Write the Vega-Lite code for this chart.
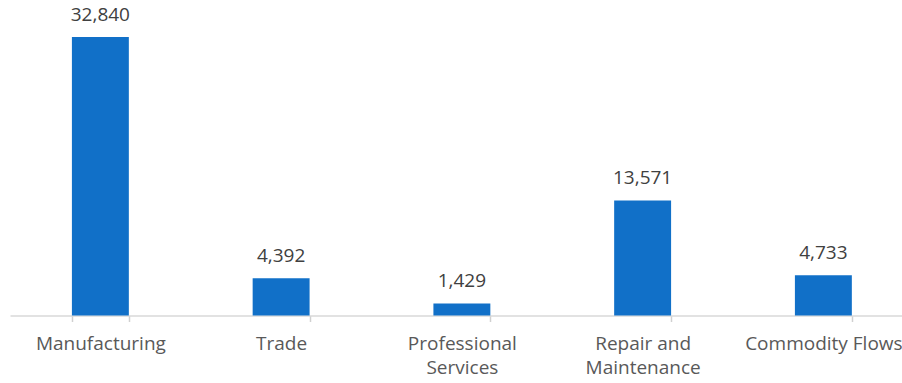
{
  "$schema": "https://vega.github.io/schema/vega-lite/v6.json",
  "width": 892,
  "height": 305.5,
  "autosize": {"type": "none"},
  "padding": {"left": 10, "top": 10, "right": 0, "bottom": 67.5},
  "background": "white",
  "data": {"values": [
    {"category": "Manufacturing", "value": 32840},
    {"category": "Trade", "value": 4392},
    {"category": "Professional Services", "value": 1429},
    {"category": "Repair and Maintenance", "value": 13571},
    {"category": "Commodity Flows", "value": 4733}
  ]},
  "encoding": {
    "x": {
      "field": "category", "type": "nominal", "sort": null,
      "scale": {"range": [0, 903.75], "paddingInner": 0.685, "paddingOuter": 0.3425},
      "axis": {
        "title": null, "labelAngle": 0,
        "labelExpr": "datum.value == 'Professional Services' ? ['Professional', 'Services'] : datum.value == 'Repair and Maintenance' ? ['Repair and', 'Maintenance'] : datum.value",
        "labelFont": "Open Sans", "labelFontSize": 19, "labelColor": "#595959",
        "labelPadding": 13, "labelLineHeight": 24,
        "domainColor": "#D9D9D9", "domainWidth": 1.5,
        "tickColor": "#D0D0D0", "tickWidth": 1.5, "tickSize": 6, "tickBand": "extent",
        "grid": false
      }
    },
    "y": {
      "field": "value", "type": "quantitative",
      "scale": {"domain": [0, 36024], "nice": false},
      "axis": null
    }
  },
  "layer": [
    {"mark": {"type": "bar", "color": "#1170C8"}},
    {"mark": {"type": "text", "dy": -22, "font": "Open Sans", "fontSize": 19, "color": "#404040"},
     "encoding": {"text": {"field": "value", "type": "quantitative", "format": ","}}}
  ],
  "config": {"view": {"stroke": null}}
}
